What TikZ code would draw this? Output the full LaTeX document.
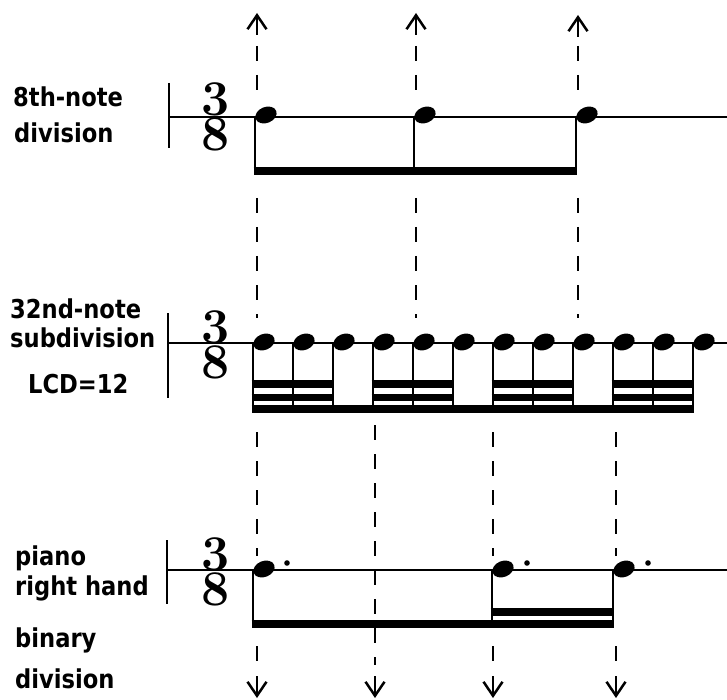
\documentclass[tikz,border=0pt]{standalone}
\usepackage{fontspec}
\newfontfamily\lblfont{DejaVu Sans Bold}[FakeStretch=0.87]
\usetikzlibrary{arrows.meta}
\newcommand\nhead[2]{\fill[rotate around={22:(#1,#2)}] (#1,#2) ellipse [x radius=11, y radius=8];}
\begin{document}
\begin{tikzpicture}[x=1pt,y=-1pt,
  lbl/.style={anchor=base west, inner sep=0pt, font=\lblfont\fontsize{26}{30}\selectfont},
  tsig/.style={inner sep=0pt, anchor=north, align=center, font=\bfseries\fontsize{50}{35}\selectfont},
  staffline/.style={line width=2.4pt},
  barl/.style={line width=2.8pt},
  stemline/.style={line width=2.8pt},
  beamline/.style={line width=8pt},
  guide/.style={line width=2.5pt, dash pattern=on 15pt off 14pt},
  uparrow/.style={line width=2.5pt, -{Straight Barb[length=14pt,width=19pt,line width=2.5pt]}},
]
\useasboundingbox (0,0) rectangle (727,700);

% labels
\node[lbl] (t1a) at (13,107) {8th-note};
\node[lbl] (t1b) at (14,143) {division};
\node[lbl] (t2a) at (10,318) {32nd-note};
\node[lbl] (t2b) at (10,347) {subdivision};
\node[lbl] (t2c) at (28,393) {LCD=12};
\node[lbl] (t3a) at (15,565) {piano};
\node[lbl] (t3b) at (15,595) {right hand};
\node[lbl] (t3c) at (15,647) {binary};
\node[lbl] (t3d) at (15,688) {division};

% staff 1
\draw[staffline] (169,117) -- (727,117);
\draw[barl] (169,83) -- (169,148);
\node[tsig] (ts1) at (216,83) {3\\8};
\foreach \s in {255,414,576}{
  \nhead{\s+11}{115}
  \draw[stemline] (\s,117) -- (\s,175);
}
\draw[beamline] (253.6,171) -- (577.4,171);

% staff 2
\draw[staffline] (168,343) -- (727,343);
\draw[barl] (168,313) -- (168,398);
\node[tsig] (ts2) at (216,310) {3\\8};
\foreach \k in {0,...,11}{
  \pgfmathsetmacro\s{253+40*\k}
  \nhead{\s+11}{342}
  \draw[stemline] (\s,344) -- (\s,413);
}
\draw[beamline] (251.6,409) -- (694.4,409);
\foreach \g in {0,1,2,3}{
  \pgfmathsetmacro\a{253+120*\g-1.4}
  \pgfmathsetmacro\b{253+120*\g+80+1.4}
  \draw[line width=7pt] (\a,397.5) -- (\b,397.5);
  \draw[beamline] (\a,384) -- (\b,384);
}

% staff 3
\draw[staffline] (167,570) -- (727,570);
\draw[barl] (167,540) -- (167,604);
\node[tsig] (ts3) at (216,537) {3\\8};
\foreach \s in {253,492,613}{
  \nhead{\s+11}{569}
  \draw[stemline] (\s,571) -- (\s,628);
}
\foreach \d in {287,527,648}{ \fill (\d,563) circle (2.8); }
\draw[beamline] (251.6,624) -- (614.4,624);
\draw[beamline] (490.6,612) -- (614.4,612);

% guide columns: arrows
\coordinate (aTop) at (257,13);  \coordinate (aS) at (257,35);
\coordinate (bTop) at (416,13);  \coordinate (bS) at (416,35);
\coordinate (cTop) at (578,15);  \coordinate (cS) at (578,37);
\coordinate (aE) at (257,676); \coordinate (aBot) at (257,698);
\coordinate (dE) at (375,676); \coordinate (dBot) at (375,698);
\coordinate (eE) at (493,676); \coordinate (eBot) at (493,698);
\coordinate (fE) at (616,676); \coordinate (fBot) at (616,698);
\draw[uparrow] (aS) -- (aTop);
\draw[uparrow] (bS) -- (bTop);
\draw[uparrow] (cS) -- (cTop);
\draw[uparrow] (aE) -- (aBot);
\draw[uparrow] (dE) -- (dBot);
\draw[uparrow] (eE) -- (eBot);
\draw[uparrow] (fE) -- (fBot);

% guide columns: dashed segments
\foreach \x/\n in {257/a,416/b,578/c}{
  \coordinate (\n1) at (\x,46); \coordinate (\n2) at (\x,100);
  \coordinate (\n3) at (\x,198); \coordinate (\n4) at (\x,318);
  \draw[guide] (\n1) -- (\n2);
  \draw[guide] (\n3) -- (\n4);
}
\foreach \x/\n in {257/a,493/e,616/f}{
  \coordinate (\n5) at (\x,432); \coordinate (\n6) at (\x,556);
  \coordinate (\n7) at (\x,646); \coordinate (\n8) at (\x,664);
  \draw[guide] (\n5) -- (\n6);
  \draw[guide] (\n7) -- (\n8);
}
\coordinate (d1) at (375,425); \coordinate (d2) at (375,665);
\draw[guide] (d1) -- (d2);
\end{tikzpicture}
\end{document}
